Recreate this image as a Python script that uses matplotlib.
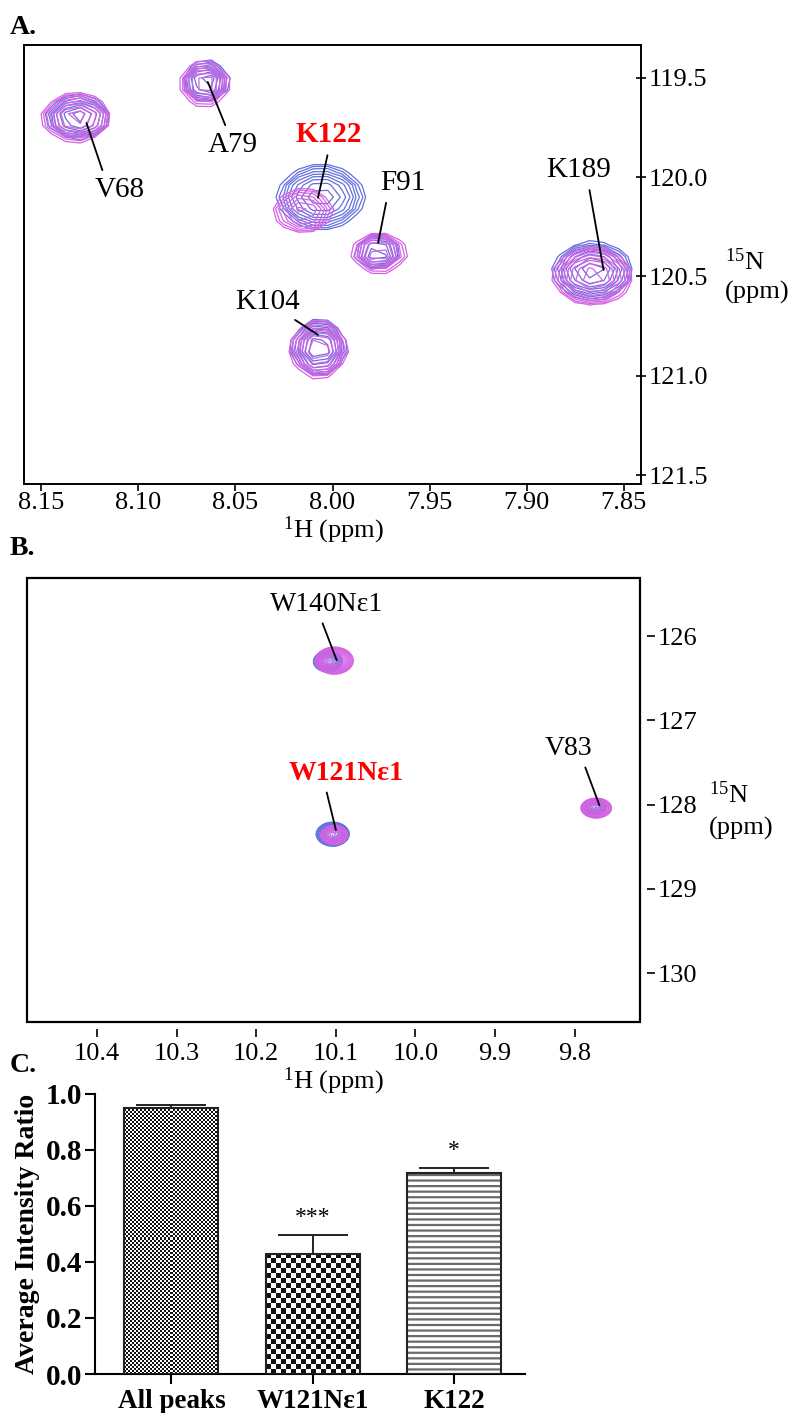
import numpy as np
import matplotlib
matplotlib.use("Agg")
from matplotlib import pyplot
from matplotlib.colors import ListedColormap
from matplotlib.patches import Rectangle

pyplot.rcParams['font.family'] = ['Liberation Serif', 'DejaVu Serif']
pyplot.rcParams['mathtext.fontset'] = 'custom'
pyplot.rcParams['mathtext.rm'] = 'Liberation Serif'
pyplot.rcParams['hatch.linewidth'] = 1.6

BLUE = '#6470dc'
MAGENTA = '#d462e4'

# ---- panel A: peak list (1H ppm, 15N ppm, widths, heights) ----
a_labels = ['V68', 'A79', 'K122', 'F91', 'K104', 'K189']
a_label_h = [8.1097, 8.0513, 8.0018, 7.9635, 8.0333, 7.8732]
a_label_n = [120.064, 119.837, 119.787, 120.029, 120.628, 119.965]
a_tip_h = [8.1268, 8.0643, 8.0075, 7.9765, 8.0075, 7.8603]
a_tip_n = [119.727, 119.52, 120.104, 120.331, 120.794, 120.467]

a_blue_h = [8.131, 8.065, 8.006, 7.977, 8.007, 7.866]
a_blue_n = [119.70, 119.52, 120.10, 120.38, 120.86, 120.47]
a_blue_sh = [0.0082, 0.0060, 0.0105, 0.0064, 0.0066, 0.0095]
a_blue_sn = [0.054, 0.054, 0.075, 0.047, 0.068, 0.068]
a_blue_amp = [7, 6, 9, 5, 8, 9]

a_mag_h = [8.132, 8.066, 8.015, 7.976, 8.007, 7.866]
a_mag_n = [119.70, 119.53, 120.17, 120.38, 120.87, 120.50]
a_mag_sh = [0.0088, 0.0066, 0.0082, 0.0072, 0.0068, 0.0095]
a_mag_sn = [0.060, 0.058, 0.060, 0.052, 0.070, 0.068]
a_mag_amp = [7, 6, 5, 6, 8, 9]

# ---- panel B ----
b_labels = ['W140N\u03b51', 'W121N\u03b51', 'V83']
b_label_h = [10.1114, 10.0876, 9.8078]
b_label_n = [125.62, 127.626, 127.33]
b_tip_h = [10.099, 10.100, 9.769]
b_tip_n = [126.285, 128.30, 128.006]

b_blue_h = [10.110, 10.104, 9.775]
b_blue_n = [126.30, 128.35, 128.03]
b_blue_sh = [0.0080, 0.0080, 0.0066]
b_blue_sn = [0.055, 0.055, 0.040]
b_blue_amp = [14, 30, 12]

b_mag_h = [10.102, 10.102, 9.773]
b_mag_n = [126.29, 128.36, 128.04]
b_mag_sh = [0.0092, 0.0074, 0.0075]
b_mag_sn = [0.062, 0.050, 0.046]
b_mag_amp = [30, 14, 28]

# ---- panel C ----
c_groups = ['All peaks', 'W121N\u03b51', 'K122']
c_values = [0.950, 0.430, 0.719]
c_errors = [0.011, 0.065, 0.015]
c_stars = ['', '***', '*']


def spectrum(hx, ny, ph, pn, sh, sn, amp):
    z = np.zeros_like(hx)
    for x0, y0, a, b, h in zip(ph, pn, sh, sn, amp):
        z += h * np.exp(-((hx - x0) ** 2) / (2 * a ** 2) - ((ny - y0) ** 2) / (2 * b ** 2))
    return z


fig = pyplot.figure(figsize=(7.97, 14.13), dpi=100)

# ================= A =================
axA = fig.add_axes([0.0301, 0.6575, 0.7742, 0.3107])
hA, nA = np.meshgrid(np.arange(7.80, 8.20, 0.0075), np.arange(119.2, 121.7, 0.06))
levA = 1.0 * 1.28 ** np.arange(9)
axA.contour(hA, nA, spectrum(hA, nA, a_blue_h, a_blue_n, a_blue_sh, a_blue_sn, a_blue_amp),
            levels=levA, colors=BLUE, linewidths=0.9)
axA.contour(hA, nA, spectrum(hA, nA, a_mag_h, a_mag_n, a_mag_sh, a_mag_sn, a_mag_amp),
            levels=levA, colors=MAGENTA, linewidths=0.9)
rel_a = [(0.2, 1), (0.4, 1), (0.5, 0), (0.15, 0), (0.8, 0), (0.65, 0)]
for i, lab in enumerate(a_labels):
    red = lab == 'K122'
    axA.annotate(lab, xy=(a_tip_h[i], a_tip_n[i]), xytext=(a_label_h[i], a_label_n[i]),
                 ha='center', va='center', fontsize=21,
                 color='red' if red else 'black', fontweight='bold' if red else 'normal',
                 arrowprops=dict(arrowstyle='-', lw=1.3, color='black', shrinkA=3, shrinkB=0,
                                 relpos=rel_a[i]))
axA.set_xlim(8.159, 7.841)
axA.set_ylim(121.545, 119.334)
axA.set_xticks([8.15, 8.10, 8.05, 8.00, 7.95, 7.90, 7.85])
axA.set_xticklabels(['8.15', '8.10', '8.05', '8.00', '7.95', '7.90', '7.85'])
axA.set_yticks([119.5, 120.0, 120.5, 121.0, 121.5])
axA.set_yticklabels(['119.5', '120.0', '120.5', '121.0', '121.5'])
axA.yaxis.tick_right()
axA.tick_params(axis='x', direction='out', length=5, width=1.2, labelsize=19, pad=1)
axA.tick_params(axis='y', direction='inout', length=7, width=1.2, labelsize=19, pad=2)
for s in axA.spines.values():
    s.set_linewidth(1.4)

fig.text(333 / 797, 1 - 530 / 1413, r'$\mathregular{^{1}H}$ (ppm)', ha='center', va='center', fontsize=19)
fig.text(725 / 797, 1 - 262 / 1413, r'$\mathregular{^{15}N}$', ha='left', va='center', fontsize=19)
fig.text(725 / 797, 1 - 292 / 1413, '(ppm)', ha='left', va='center', fontsize=19)
fig.text(10 / 797, 1 - 28 / 1413, 'A.', ha='left', va='center', fontsize=20, fontweight='bold')

# ================= B =================
axB = fig.add_axes([0.0339, 0.2767, 0.7691, 0.3142])
hB, nB = np.meshgrid(np.arange(9.70, 10.50, 0.003), np.arange(125.0, 131.0, 0.022))
levB = 1.0 * 1.2 ** np.arange(20)
axB.contour(hB, nB, spectrum(hB, nB, b_blue_h, b_blue_n, b_blue_sh, b_blue_sn, b_blue_amp),
            levels=levB, colors=BLUE, linewidths=0.6)
axB.contour(hB, nB, spectrum(hB, nB, b_mag_h, b_mag_n, b_mag_sh, b_mag_sn, b_mag_amp),
            levels=levB, colors=MAGENTA, linewidths=0.6)
rel_b = [(0.44, 0), (0.32, 0), (0.8, 0)]
for i, lab in enumerate(b_labels):
    red = lab.startswith('W121')
    axB.annotate(lab, xy=(b_tip_h[i], b_tip_n[i]), xytext=(b_label_h[i], b_label_n[i]),
                 ha='center', va='center', fontsize=20,
                 color='red' if red else 'black', fontweight='bold' if red else 'normal',
                 arrowprops=dict(arrowstyle='-', lw=1.3, color='black', shrinkA=3, shrinkB=0,
                                 relpos=rel_b[i]))
axB.set_xlim(10.488, 9.718)
axB.set_ylim(130.58, 125.31)
axB.set_xticks([10.4, 10.3, 10.2, 10.1, 10.0, 9.9, 9.8])
axB.set_xticklabels(['10.4', '10.3', '10.2', '10.1', '10.0', '9.9', '9.8'])
axB.set_yticks([126, 127, 128, 129, 130])
axB.yaxis.tick_right()
for side in ['bottom', 'right']:
    axB.spines[side].set_position(('outward', 5))
for s in axB.spines.values():
    s.set_visible(False)
axB.add_patch(Rectangle((0, 0), 1, 1, transform=axB.transAxes, fill=False, lw=1.6,
                        edgecolor='black', clip_on=False, zorder=5))
axB.tick_params(axis='x', direction='out', length=6, width=1.2, labelsize=19, pad=4)
axB.tick_params(axis='y', direction='out', length=6, width=1.2, labelsize=19, pad=2)

fig.text(333 / 797, 1 - 1081 / 1413, r'$\mathregular{^{1}H}$ (ppm)', ha='center', va='center', fontsize=19)
fig.text(709 / 797, 1 - 795 / 1413, r'$\mathregular{^{15}N}$', ha='left', va='center', fontsize=19)
fig.text(709 / 797, 1 - 828 / 1413, '(ppm)', ha='left', va='center', fontsize=19)
fig.text(10 / 797, 1 - 548 / 1413, 'B.', ha='left', va='center', fontsize=20, fontweight='bold')

# ================= C =================
axC = fig.add_axes([0.1192, 0.0276, 0.5395, 0.1982])
xpos = np.arange(len(c_groups))
axC.set_xlim(-0.54, 2.5)
axC.set_ylim(0, 1.0)
bars = axC.bar(xpos, c_values, width=0.665, color='white', edgecolor='none', zorder=1)

# checkerboard fills for the first two bars, horizontal lines for the third
cell_px = [2.0, 5.0]
for bar, cp in zip(list(bars)[:2], cell_px):
    x0, y0, w, h = bar.get_x(), bar.get_y(), bar.get_width(), bar.get_height()
    p0 = axC.transData.transform((x0, y0))
    p1 = axC.transData.transform((x0 + w, y0 + h))
    ncx = max(1, int(round((p1[0] - p0[0]) / cp)))
    ncy = max(1, int(round((p1[1] - p0[1]) / cp)))
    board = np.add.outer(np.arange(ncy), np.arange(ncx)) % 2
    axC.imshow(board, cmap=ListedColormap(['white', '#111111']), extent=(x0, x0 + w, y0, y0 + h),
               origin='lower', aspect='auto', interpolation='nearest', zorder=2)
axC.bar(xpos[2], c_values[2], width=0.665, color='white', edgecolor='#6a6a6a', hatch='---',
        linewidth=0, zorder=2)
axC.bar(xpos, c_values, width=0.665, fill=False, edgecolor='#222222', linewidth=1.5, zorder=3)
axC.errorbar(xpos, c_values, yerr=[np.zeros(len(c_values)), c_errors], fmt='none',
             ecolor='#222222', elinewidth=1.4, capsize=25, capthick=1.4, zorder=4)
for i, st in enumerate(c_stars):
    if st:
        axC.text(xpos[i], c_values[i] + c_errors[i] + 0.065, st, ha='center', va='center', fontsize=17)
axC.set_xlim(-0.54, 2.5)
axC.set_ylim(0, 1.0)
axC.set_xticks(xpos)
axC.set_xticklabels(c_groups, fontweight='bold', fontsize=19.5)
axC.set_yticks([0.0, 0.2, 0.4, 0.6, 0.8, 1.0])
axC.set_yticklabels(['0.0', '0.2', '0.4', '0.6', '0.8', '1.0'], fontweight='bold', fontsize=21)
axC.spines['top'].set_visible(False)
axC.spines['right'].set_visible(False)
for s in ['left', 'bottom']:
    axC.spines[s].set_linewidth(1.5)
axC.tick_params(axis='both', direction='out', length=7, width=1.5)
axC.tick_params(axis='y', pad=2)
axC.set_ylabel('Average Intensity Ratio', fontsize=20, fontweight='bold', labelpad=4)
fig.text(10 / 797, 1 - 1066 / 1413, 'C.', ha='left', va='center', fontsize=20, fontweight='bold')

fig.savefig('out.png', dpi=100)
